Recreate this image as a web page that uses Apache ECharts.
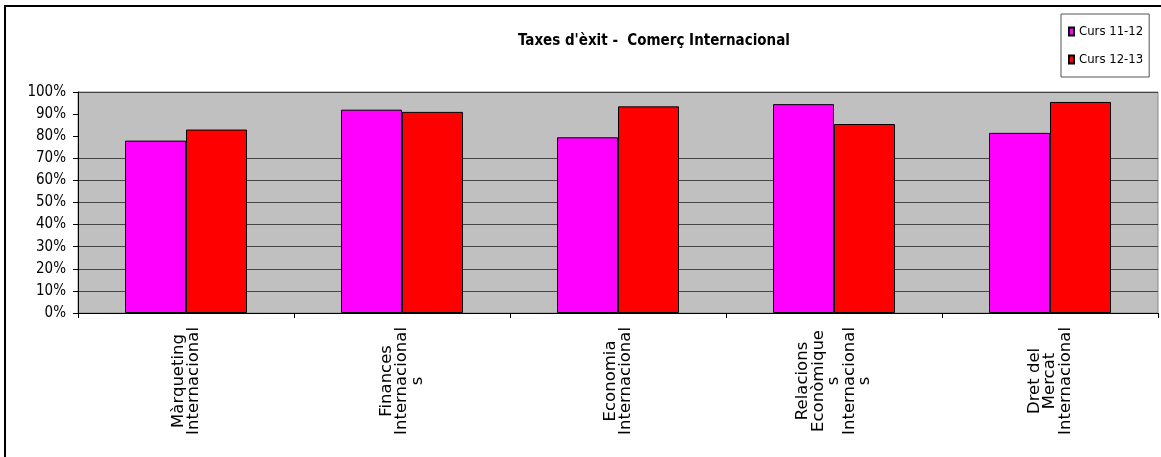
<!DOCTYPE html>
<html>
<head>
<meta charset="utf-8">
<script src="https://cdn.jsdelivr.net/npm/echarts@6/dist/echarts.min.js"></script>
<style>
  html, body { margin: 0; padding: 0; background: #fff; overflow: hidden; }
  #chart { width: 1161px; height: 457px; }
  #frame {
    position: absolute; left: 4px; top: 5px; width: 1300px; height: 600px;
    border: 2px solid #000; pointer-events: none;
  }
</style>
</head>
<body>
<div id="chart"></div>
<div id="frame"></div>
<script>
const narrow = "'Liberation Sans Narrow', 'Arial Narrow', 'DejaVu Sans Condensed', sans-serif"

const categories = [
  'Màrqueting\nInternacional',
  'Finances\nInternacional\ns',
  'Economia\nInternacional',
  'Relacions\nEconòmique\ns\nInternacional\ns',
  'Dret del\nMercat\nInternacional',
]
const curs1112 = [78, 92, 79.5, 94.5, 81.5]
const curs1213 = [83, 91, 93.5, 85.5, 95.5]
const yTicks = [10, 20, 30, 40, 50, 60, 70, 80, 90, 100]

// excel left out the 90% gridline, the 100% one is the plot border
// (the 0% line is not counted, the axis line sits there)
const gridColors = yTicks.map((t) => (t >= 90 ? 'rgba(0,0,0,0)' : '#444'))

const chart = echarts.init(document.getElementById('chart'))

const option = {
  animation: false,
  backgroundColor: '#fff',
  title: {
    text: "Taxes d'èxit -  Comerç Internacional",
    left: 513,
    top: 29,
    textStyle: { fontFamily: narrow, fontSize: 15, fontWeight: 'bold', color: '#000' },
  },
  legend: {
    orient: 'vertical',
    left: 1061,
    top: 14,
    padding: [11, 6, 11, 7],
    itemGap: 15,
    itemWidth: 5,
    itemHeight: 8,
    icon: 'rect',
    borderColor: '#555',
    borderWidth: 1,
    backgroundColor: '#fff',
    textStyle: { fontFamily: narrow, fontSize: 13, color: '#000' },
  },
  grid: {
    left: 78,
    right: 3,
    top: 92,
    bottom: 144,
    show: true,
    backgroundColor: '#c0c0c0',
    borderColor: '#8a8a8a',
    borderWidth: 1,
  },
  xAxis: {
    type: 'category',
    data: categories,
    axisLine: { lineStyle: { color: '#000', width: 1 } },
    axisTick: { show: true, length: 5, lineStyle: { color: '#000' } },
    axisLabel: {
      rotate: 90,
      margin: 14,
      interval: 0,
      formatter: (v) => v.split('\n').map((l) => '{c|' + l + '}').join('\n'),
      rich: {
        c: {
          align: 'center',
          fontFamily: "'DejaVu Sans', sans-serif",
          fontSize: 16.5,
          lineHeight: 15.5,
          color: '#000',
        },
      },
    },
  },
  yAxis: {
    type: 'value',
    min: 0,
    max: 100,
    interval: 10,
    axisLine: { show: true, lineStyle: { color: '#000', width: 1 } },
    axisTick: { show: true, length: 5, lineStyle: { color: '#000' } },
    axisLabel: {
      formatter: '{value}%',
      margin: 12,
      fontFamily: narrow,
      fontSize: 15,
      color: '#000',
    },
    splitLine: { show: true, lineStyle: { color: gridColors, width: 1 } },
  },
  series: [
    {
      name: 'Curs 11-12',
      type: 'bar',
      data: curs1112,
      barWidth: 61,
      barGap: '0%',
      itemStyle: { color: '#ff00ff', borderColor: '#000', borderWidth: 1 },
    },
    {
      name: 'Curs 12-13',
      type: 'bar',
      data: curs1213,
      barWidth: 61,
      barGap: '0%',
      itemStyle: { color: '#ff0000', borderColor: '#000', borderWidth: 1 },
    },
  ],
}

chart.setOption(option)
</script>
</body>
</html>
